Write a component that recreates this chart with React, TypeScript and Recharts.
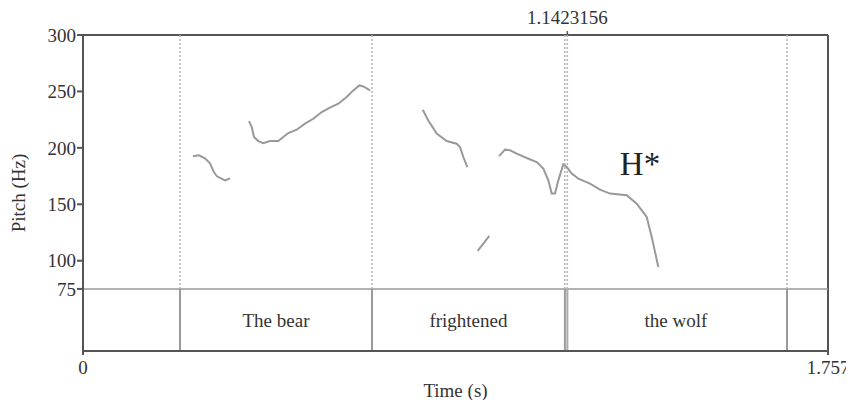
import {
  LineChart,
  Line,
  XAxis,
  YAxis,
  ReferenceLine,
  ReferenceArea,
  ReferenceDot,
} from 'recharts';

type Pt = { t: number; hz: number };

// pitch contour pieces (time s, pitch Hz)
const seg1: Pt[] = [
  { t: 0.2594, hz: 192.5 }, { t: 0.2736, hz: 193.4 }, { t: 0.2877, hz: 190.7 },
  { t: 0.2995, hz: 186.3 }, { t: 0.309, hz: 178.3 }, { t: 0.316, hz: 174.8 },
  { t: 0.335, hz: 171.2 }, { t: 0.347, hz: 173.0 },
];
const seg2: Pt[] = [
  { t: 0.3915, hz: 223.7 }, { t: 0.3979, hz: 218.4 }, { t: 0.4033, hz: 209.6 },
  { t: 0.4134, hz: 206.0 }, { t: 0.4252, hz: 204.2 }, { t: 0.441, hz: 206.0 },
  { t: 0.4606, hz: 206.0 }, { t: 0.4724, hz: 209.6 }, { t: 0.4842, hz: 213.1 },
  { t: 0.504, hz: 216.1 }, { t: 0.5236, hz: 221.4 }, { t: 0.5431, hz: 225.8 },
  { t: 0.563, hz: 231.7 }, { t: 0.5825, hz: 235.6 }, { t: 0.6021, hz: 239.1 },
  { t: 0.6219, hz: 245.0 }, { t: 0.6375, hz: 250.9 }, { t: 0.6516, hz: 255.3 },
  { t: 0.6611, hz: 254.4 }, { t: 0.6769, hz: 250.9 },
];
const seg3: Pt[] = [
  { t: 0.8012, hz: 233.8 }, { t: 0.8144, hz: 224.3 }, { t: 0.8342, hz: 212.6 },
  { t: 0.8578, hz: 206.0 }, { t: 0.8813, hz: 203.7 }, { t: 0.8891, hz: 200.7 },
  { t: 0.8969, hz: 191.9 }, { t: 0.9063, hz: 183.0 },
];
const seg4: Pt[] = [
  { t: 0.9309, hz: 108.7 }, { t: 0.9441, hz: 115.2 }, { t: 0.9582, hz: 122.0 },
];
const seg5: Pt[] = [
  { t: 0.9811, hz: 192.7 }, { t: 0.9953, hz: 198.4 }, { t: 1.0071, hz: 197.8 },
  { t: 1.0229, hz: 194.9 }, { t: 1.0464, hz: 191.0 }, { t: 1.07, hz: 187.4 },
  { t: 1.0856, hz: 181.6 }, { t: 1.0974, hz: 171.2 }, { t: 1.1054, hz: 159.5 },
  { t: 1.1132, hz: 159.5 }, { t: 1.121, hz: 171.2 }, { t: 1.1327, hz: 185.4 },
  { t: 1.1408, hz: 183.0 }, { t: 1.1526, hz: 177.2 }, { t: 1.1682, hz: 172.7 },
  { t: 1.1957, hz: 168.3 }, { t: 1.2193, hz: 163.0 }, { t: 1.2429, hz: 159.5 },
  { t: 1.2823, hz: 158.0 }, { t: 1.3059, hz: 150.6 }, { t: 1.3294, hz: 138.8 },
  { t: 1.3412, hz: 121.1 }, { t: 1.3568, hz: 94.5 },
];
const segments = [seg1, seg2, seg3, seg4, seg5];

const boundaries = [0.2288, 0.6816, 1.1365, 1.6603];
const words = ['The bear', 'frightened', 'the wolf'];
const cursorTime = 1.1423156;
const accentLabel = 'H*';
const accentAt = { t: 1.3136, hz: 186 };

const yTicks = [75, 100, 150, 200, 250, 300];
const xTicks = [0, 1.757];
const tMax = 1.757;
const tierTop = 75;
const tierBottom = 20;
const pitchTop = 300;

const font = '"Liberation Serif", "Times New Roman", serif';
const ink = '#333';
const frame = '#555';

const PitchLabel = ({ viewBox }: any) => {
  const cx = viewBox.x + 18;
  const cy = viewBox.y + viewBox.height / 2;
  return (
    <text
      x={cx}
      y={cy}
      transform={`rotate(-90 ${cx} ${cy})`}
      textAnchor="middle"
      dominantBaseline="central"
      fill={ink}
      fontSize={19}
      fontFamily={font}
    >
      Pitch (Hz)
    </text>
  );
};

export default function App() {
  return (
    <div style={{ margin: -8, fontFamily: font }}>
      <LineChart
        width={854}
        height={408}
        margin={{ top: 35, right: 26, left: 0, bottom: 7 }}
        style={{ overflow: 'visible', fontFamily: font }}
      >
        <XAxis
          dataKey="t"
          type="number"
          domain={[0, tMax]}
          ticks={xTicks}
          allowDataOverflow
          height={50}
          tickSize={4}
          tickMargin={6}
          stroke={frame}
          strokeWidth={2}
          tick={{ fill: ink, fontSize: 19, fontFamily: font }}
          tickFormatter={(v) => String(v)}
          label={{
            value: 'Time (s)',
            position: 'insideBottom',
            offset: 4,
            fill: ink,
            fontSize: 19,
            fontFamily: font,
          }}
        />
        <YAxis
          type="number"
          domain={[tierBottom, pitchTop]}
          ticks={yTicks}
          allowDataOverflow
          width={83}
          tickSize={6}
          tickMargin={1}
          stroke={frame}
          strokeWidth={2}
          tick={{ fill: ink, fontSize: 19, fontFamily: font }}
          label={{ content: PitchLabel }}
        />

        {/* frame */}
        <ReferenceLine y={pitchTop} stroke={frame} strokeWidth={2} ifOverflow="visible" />
        <ReferenceLine x={tMax} stroke={frame} strokeWidth={2} ifOverflow="visible" />
        <ReferenceLine y={tierTop} stroke="#999" strokeWidth={1.5} />

        {/* interval boundaries */}
        {boundaries.map((b) => (
          <ReferenceLine
            key={`d${b}`}
            segment={[{ x: b, y: tierTop }, { x: b, y: pitchTop }]}
            stroke="#b5b5b5"
            strokeWidth={1.5}
            strokeDasharray="2 2"
          />
        ))}
        {boundaries.map((b) => (
          <ReferenceLine
            key={`s${b}`}
            segment={[{ x: b, y: tierBottom }, { x: b, y: tierTop }]}
            stroke="#9a9a9a"
            strokeWidth={2}
          />
        ))}

        {/* cursor */}
        <ReferenceLine
          segment={[{ x: cursorTime, y: tierTop }, { x: cursorTime, y: pitchTop }]}
          stroke="#b5b5b5"
          strokeWidth={1.5}
          strokeDasharray="2 2"
        />
        <ReferenceLine
          segment={[{ x: cursorTime, y: tierBottom }, { x: cursorTime, y: tierTop }]}
          stroke="#aaa"
          strokeWidth={2}
        />
        <ReferenceLine
          segment={[{ x: cursorTime, y: pitchTop }, { x: cursorTime, y: 303.5 }]}
          stroke={frame}
          strokeWidth={1.5}
          ifOverflow="visible"
        />
        <ReferenceDot
          x={cursorTime}
          y={303.5}
          r={0}
          ifOverflow="visible"
          label={{
            value: String(cursorTime),
            position: 'top',
            offset: 7,
            fill: ink,
            fontSize: 19,
            fontFamily: font,
          }}
        />

        {/* word tier */}
        {words.map((w, i) => (
          <ReferenceArea
            key={w}
            x1={boundaries[i]}
            x2={boundaries[i + 1]}
            y1={tierBottom}
            y2={tierTop}
            fill="none"
            stroke="none"
            label={{
              value: w,
              position: 'center',
              fill: ink,
              fontSize: 19,
              fontFamily: font,
            }}
          />
        ))}

        {segments.map((s, i) => (
          <Line
            key={i}
            data={s}
            dataKey="hz"
            type="linear"
            stroke="#999"
            strokeWidth={2}
            dot={false}
            isAnimationActive={false}
          />
        ))}

        <ReferenceDot
          x={accentAt.t}
          y={accentAt.hz}
          r={0}
          label={{
            value: accentLabel,
            position: 'center',
            fill: '#222',
            fontSize: 33,
            fontFamily: font,
          }}
        />
      </LineChart>
    </div>
  );
}
